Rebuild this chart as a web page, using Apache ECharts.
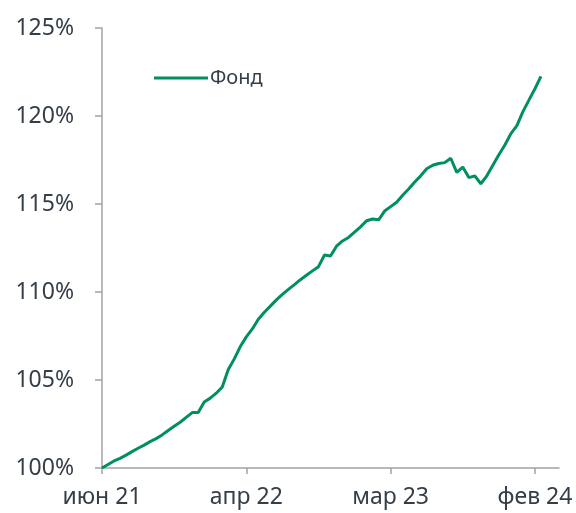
<!DOCTYPE html>
<html>
<head>
<meta charset="utf-8">
<script src="https://cdn.jsdelivr.net/npm/echarts@6/dist/echarts.min.js"></script>
<style>
  html, body { margin: 0; padding: 0; background: #fff; }
  #chart { width: 576px; height: 513px; }
</style>
</head>
<body>
<div id="chart"></div>
<script>
// --- данные ---
var seriesName = 'Фонд';
var tickLabels = ['июн 21', 'апр 22', 'мар 23', 'фев 24'];
var tickStep = 24;       // точек между подписями оси X
var pointCount = 77;     // длина оси в точках
var fundValues = [
	100.0, 100.2, 100.4, 100.55, 100.73, 100.93, 101.12, 101.3, 101.5, 101.67,
	101.88, 102.13, 102.37, 102.6, 102.88, 103.15, 103.15, 103.75, 103.97, 104.25,
	104.6, 105.6, 106.2, 106.9, 107.45, 107.9, 108.45, 108.85, 109.2, 109.55,
	109.87, 110.15, 110.42, 110.7, 110.95, 111.2, 111.44, 112.1, 112.05, 112.6,
	112.9, 113.1, 113.4, 113.7, 114.05, 114.15, 114.1, 114.6, 114.85, 115.1,
	115.5, 115.85, 116.25, 116.6, 117.0, 117.2, 117.3, 117.35, 117.6, 116.8,
	117.1, 116.5, 116.6, 116.15, 116.6, 117.2, 117.8, 118.35, 119.0, 119.45,
	120.25, 120.9, 121.55, 122.25
];

var categories = [];
for (var i = 0; i < pointCount; i++) {
	categories.push(i);
}

var textColor = '#333e48';
var axisColor = '#a3a3a3';
var lineColor = '#00905c';
var fontFamily = '"Noto Sans", sans-serif';

var myChart = echarts.init(document.getElementById('chart'));
myChart.setOption({
	animation: false,
	grid: {
		left: 102,
		top: 28,
		right: 17,
		bottom: 45,
		containLabel: false
	},
	legend: {
		data: [seriesName],
		left: 149,
		top: 63,
		icon: 'rect',
		itemWidth: 54,
		itemHeight: 3,
		textStyle: {
			color: textColor,
			fontSize: 20,
			fontFamily: fontFamily,
			padding: [0, 0, 0, -3]
		}
	},
	xAxis: {
		type: 'category',
		data: categories,
		boundaryGap: false,
		axisLine: {
			show: true,
			lineStyle: { color: axisColor, width: 1.5 }
		},
		axisTick: {
			show: true,
			interval: tickStep - 1,
			length: 6,
			lineStyle: { color: axisColor, width: 1.5 }
		},
		axisLabel: {
			interval: tickStep - 1,
			margin: 18,
			color: textColor,
			fontSize: 23,
			fontFamily: fontFamily,
			formatter: function (value, idx) {
				return tickLabels[idx / tickStep] || '';
			}
		},
		splitLine: { show: false }
	},
	yAxis: {
		type: 'value',
		min: 100,
		max: 125,
		interval: 5,
		axisLine: {
			show: true,
			lineStyle: { color: axisColor, width: 1.5 }
		},
		axisTick: {
			show: true,
			length: 7,
			lineStyle: { color: axisColor, width: 1.5 }
		},
		axisLabel: {
			margin: 28,
			color: textColor,
			fontSize: 23,
			fontFamily: fontFamily,
			formatter: '{value}%'
		},
		splitLine: { show: false }
	},
	series: [
		{
			name: seriesName,
			type: 'line',
			data: fundValues,
			showSymbol: false,
			symbol: 'none',
			lineStyle: { color: lineColor, width: 3 },
			itemStyle: { color: lineColor }
		}
	],
	color: [lineColor]
});
</script>
</body>
</html>
